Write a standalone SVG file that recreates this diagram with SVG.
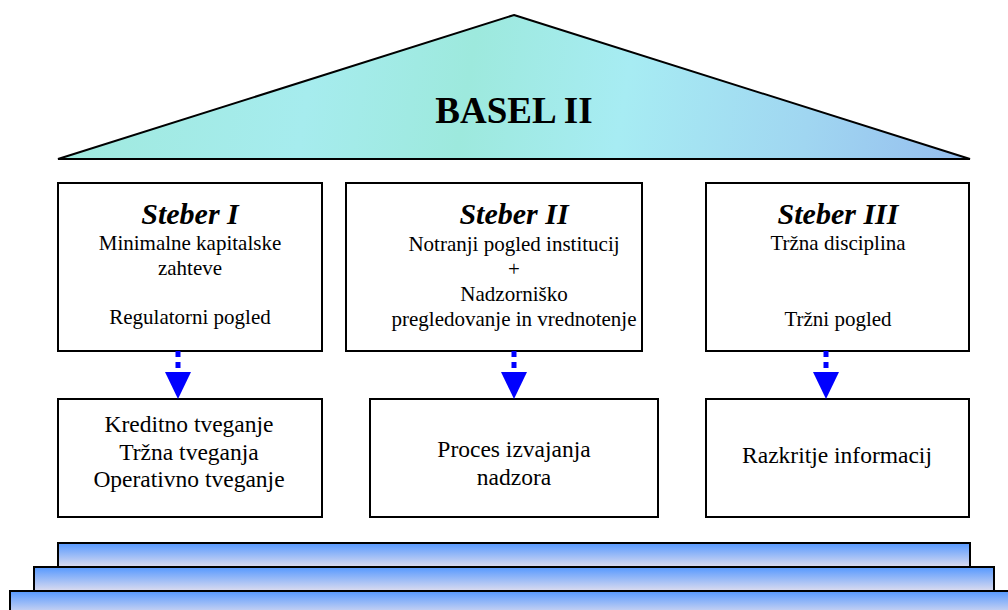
<svg xmlns="http://www.w3.org/2000/svg" width="1008" height="610" viewBox="0 0 1008 610">
  <defs>
    <linearGradient id="roofFill" x1="58" y1="15" x2="970" y2="159" gradientUnits="userSpaceOnUse">
      <stop offset="0" stop-color="#9fe9dc"/>
      <stop offset="0.28" stop-color="#a6ecee"/>
      <stop offset="0.45" stop-color="#9de9dd"/>
      <stop offset="0.62" stop-color="#a7ecf3"/>
      <stop offset="0.82" stop-color="#a0d6f1"/>
      <stop offset="1" stop-color="#95bdee"/>
    </linearGradient>
    <linearGradient id="stepFill" x1="0" y1="0" x2="0" y2="1">
      <stop offset="0" stop-color="#5598ff"/>
      <stop offset="1" stop-color="#dcdcef"/>
    </linearGradient>
  </defs>
  <style>
    .box { fill: #ffffff; stroke: #000000; stroke-width: 2; }
    .step { fill: url(#stepFill); stroke: #000000; stroke-width: 2; }
    .title { font-family: "Liberation Serif", "Times New Roman", serif; font-weight: bold; font-style: italic; font-size: 30px; fill: #000; text-anchor: middle; }
    .body { font-family: "Liberation Serif", "Times New Roman", serif; font-size: 21px; fill: #000; text-anchor: middle; }
    .lower { font-family: "Liberation Serif", "Times New Roman", serif; font-size: 23.5px; fill: #000; text-anchor: middle; }
    .stem { stroke: #0000ff; stroke-width: 5; stroke-dasharray: 6 5; fill: none; }
    .head { fill: #0000ff; }
  </style>

  <rect width="1008" height="610" fill="#ffffff"/>

  <!-- roof -->
  <g id="roof">
    <polygon points="514,15 970,159 58,159" fill="url(#roofFill)" stroke="#000" stroke-width="2" stroke-linejoin="miter"/>
    <text x="514" y="123" font-family="Liberation Serif, Times New Roman, serif" font-weight="bold" font-size="37" text-anchor="middle" fill="#000">BASEL II</text>
  </g>

  <!-- pillars -->
  <g id="pillar1">
    <rect class="box" x="58" y="183" width="264" height="168"/>
    <text class="title" x="190" y="224">Steber I</text>
    <text class="body" x="190" y="250">Minimalne kapitalske</text>
    <text class="body" x="190" y="275">zahteve</text>
    <text class="body" x="190" y="324">Regulatorni pogled</text>
  </g>
  <g id="pillar2">
    <rect class="box" x="346" y="183" width="296" height="168"/>
    <text class="title" x="514" y="224">Steber II</text>
    <text class="body" x="514" y="251">Notranji pogled institucij</text>
    <text class="body" x="514" y="276">+</text>
    <text class="body" x="514" y="301">Nadzorniško</text>
    <text class="body" x="514" y="326">pregledovanje in vrednotenje</text>
  </g>
  <g id="pillar3">
    <rect class="box" x="706" y="183" width="263" height="168"/>
    <text class="title" x="838" y="224">Steber III</text>
    <text class="body" x="838" y="250">Tržna disciplina</text>
    <text class="body" x="838" y="326">Tržni pogled</text>
  </g>

  <!-- outcomes -->
  <g id="risks">
    <rect class="box" x="58" y="399" width="264" height="118"/>
    <text class="lower" x="189" y="432">Kreditno tveganje</text>
    <text class="lower" x="189" y="460">Tržna tveganja</text>
    <text class="lower" x="189" y="487">Operativno tveganje</text>
  </g>
  <g id="supervision">
    <rect class="box" x="370" y="399" width="288" height="118"/>
    <text class="lower" x="514" y="457">Proces izvajanja</text>
    <text class="lower" x="514" y="485">nadzora</text>
  </g>
  <g id="disclosure">
    <rect class="box" x="706" y="399" width="263" height="118"/>
    <text class="lower" x="837" y="463">Razkritje informacij</text>
  </g>

  <!-- connectors -->
  <g id="connectors">
    <line class="stem" x1="178" y1="351" x2="178" y2="372"/>
    <polygon class="head" points="165,372 191,372 178,399"/>
    <line class="stem" x1="514" y1="351" x2="514" y2="372"/>
    <polygon class="head" points="501,372 527,372 514,399"/>
    <line class="stem" x1="826" y1="351" x2="826" y2="372"/>
    <polygon class="head" points="813,372 839,372 826,399"/>
  </g>

  <!-- foundation steps -->
  <g id="foundation">
    <rect class="step" x="10" y="591" width="1010" height="24"/>
    <rect class="step" x="34" y="567" width="960" height="24"/>
    <rect class="step" x="58" y="543" width="912" height="24"/>
  </g>
</svg>
